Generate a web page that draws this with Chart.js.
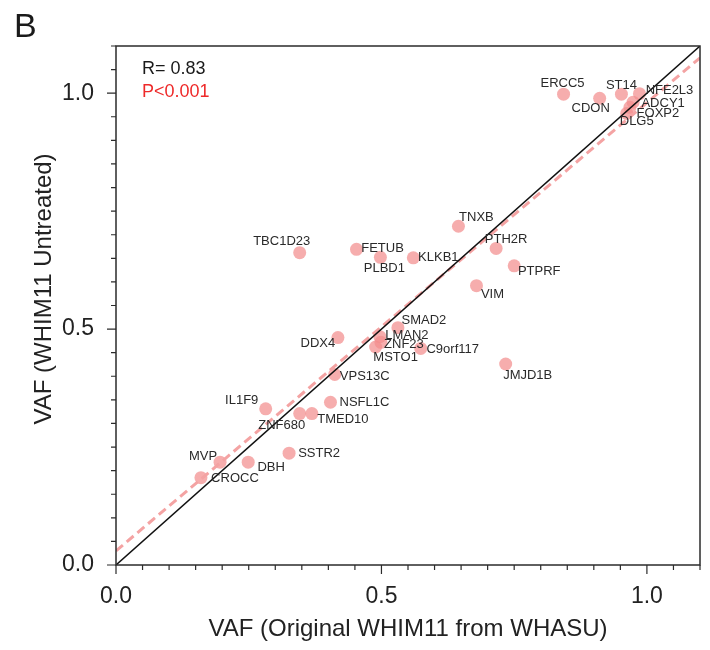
<!DOCTYPE html>
<html>
<head>
<meta charset="utf-8">
<script src="https://cdn.jsdelivr.net/npm/chart.js@4.4.1/dist/chart.umd.min.js"></script>
<style>
  html, body { margin: 0; padding: 0; background: #ffffff; }
  #wrap { width: 710px; height: 650px; }
</style>
</head>
<body>
<div id="wrap"><canvas id="c" width="710" height="650"></canvas></div>
<script>
// ---- data ----
const genes = ['ERCC5','CDON','ST14','NFE2L3','ADCY1','FOXP2','DLG5','TNXB','PTH2R','PTPRF','VIM','TBC1D23','FETUB','PLBD1','KLKB1','SMAD2','DDX4','LMAN2','ZNF23','MSTO1','C9orf117','JMJD1B','VPS13C','IL1F9','NSFL1C','ZNF680','TMED10','SSTR2','DBH','MVP','CROCC'];
const vafOriginal = [0.843,0.911,0.952,0.986,0.974,0.968,0.962,0.645,0.716,0.750,0.679,0.346,0.453,0.498,0.560,0.531,0.418,0.497,0.499,0.489,0.574,0.734,0.412,0.282,0.404,0.346,0.369,0.326,0.249,0.196,0.160];
const vafUntreated = [0.998,0.989,0.998,0.999,0.981,0.970,0.957,0.718,0.671,0.634,0.592,0.662,0.669,0.652,0.651,0.503,0.482,0.484,0.472,0.462,0.459,0.426,0.404,0.331,0.345,0.321,0.321,0.237,0.218,0.218,0.185];
const identityLine = {x: [0, 1.1], y: [0, 1.1]};
const fitLine = {x: [0, 1.1], y: [0.03, 1.075]};
const majorTickValues = [0, 0.5, 1.0];
const statR = 'R= 0.83';
const statP = 'P<0.001';
const panelLetter = 'B';
const xTitle = 'VAF (Original WHIM11 from WHASU)';
const yTitle = 'VAF (WHIM11 Untreated)';

// label placement offsets (pixels, label centre relative to dot)
const labelDx = [-1,-9,0,30,30,28,10,18,10,25,16,-18,26,4,25,26,-20,27,23,20,32,22,30,-24,34,-18,31,30,23,-17,34];
const labelDy = [-11,10,-9,-3,1,6,8,-9,-9,6,9,-11,-1,11,0,-7,6,-1,2,10,1,11,2,-8,0,12,6,0,5,-6,1];

const FONT = "'Liberation Sans', Arial, Helvetica, sans-serif";
const AXIS = '#2b2b2b';

const points = genes.map((g, i) => ({x: vafOriginal[i], y: vafUntreated[i]}));
const toXY = (o) => o.x.map((v, i) => ({x: v, y: o.y[i]}));

const isMajor = (v) => majorTickValues.some(m => Math.abs(m - v) < 1e-6);

const decor = {
  id: 'decor',
  afterDatasetsDraw(chart) {
    const ctx = chart.ctx;
    const meta = chart.getDatasetMeta(0);
    ctx.save();
    ctx.font = '13px ' + FONT;
    ctx.fillStyle = '#2a2a2a';
    ctx.textAlign = 'center';
    ctx.textBaseline = 'middle';
    meta.data.forEach((el, i) => {
      ctx.fillText(genes[i], el.x + labelDx[i], el.y + labelDy[i]);
    });
    ctx.restore();
  },
  afterDraw(chart) {
    const ctx = chart.ctx;
    const a = chart.chartArea;
    const xs = chart.scales.x, ys = chart.scales.y;
    ctx.save();
    // frame
    ctx.strokeStyle = AXIS;
    ctx.lineWidth = 1.5;
    ctx.strokeRect(a.left, a.top, a.right - a.left, a.bottom - a.top);
    // ticks
    ctx.lineWidth = 1.2;
    ctx.beginPath();
    xs.ticks.forEach(t => {
      const px = xs.getPixelForValue(t.value);
      const len = isMajor(t.value) ? 9 : 5;
      ctx.moveTo(px, a.bottom);
      ctx.lineTo(px, a.bottom + len);
    });
    ys.ticks.forEach(t => {
      const py = ys.getPixelForValue(t.value);
      const len = isMajor(t.value) ? 9 : 5;
      ctx.moveTo(a.left, py);
      ctx.lineTo(a.left - len, py);
    });
    ctx.stroke();
    // y axis title (placed slightly above the axis centre, as in the reference)
    ctx.save();
    ctx.translate(44, ys.getPixelForValue(0.585));
    ctx.rotate(-Math.PI / 2);
    ctx.font = '24px ' + FONT;
    ctx.fillStyle = '#222';
    ctx.textAlign = 'center';
    ctx.textBaseline = 'middle';
    ctx.fillText(yTitle, 0, 0);
    ctx.restore();
    // stats text
    ctx.font = '18px ' + FONT;
    ctx.textAlign = 'left';
    ctx.textBaseline = 'middle';
    ctx.fillStyle = '#1a1a1a';
    ctx.fillText(statR, a.left + 26, a.top + 23);
    ctx.fillStyle = '#ee2a2a';
    ctx.fillText(statP, a.left + 26, a.top + 46);
    // panel letter
    ctx.font = '34px ' + FONT;
    ctx.fillStyle = '#1a1a1a';
    ctx.textBaseline = 'alphabetic';
    ctx.fillText(panelLetter, 14, 37);
    ctx.restore();
  }
};

new Chart(document.getElementById('c'), {
  type: 'scatter',
  data: {
    datasets: [
      {
        label: 'genes',
        data: points,
        backgroundColor: 'rgba(242,142,141,0.72)',
        borderWidth: 0,
        pointRadius: 6.5,
        pointHoverRadius: 6.5,
        order: 3
      },
      {
        type: 'line',
        label: 'fit',
        data: toXY(fitLine),
        borderColor: '#f4a3a3',
        borderWidth: 3,
        borderDash: [9, 5],
        pointRadius: 0,
        fill: false,
        order: 2
      },
      {
        type: 'line',
        label: 'identity',
        data: toXY(identityLine),
        borderColor: '#111111',
        borderWidth: 1.5,
        pointRadius: 0,
        fill: false,
        order: 1
      }
    ]
  },
  options: {
    responsive: false,
    animation: false,
    devicePixelRatio: 1,
    layout: { padding: { top: 46, right: 10, left: 0, bottom: 0 } },
    plugins: { legend: { display: false }, tooltip: { enabled: false } },
    scales: {
      x: {
        type: 'linear', position: 'bottom', min: 0, max: 1.1,
        grid: { display: false },
        border: { display: false },
        ticks: {
          stepSize: 0.05, autoSkip: false, maxRotation: 0, padding: 10,
          color: '#222', font: { family: FONT, size: 23 },
          callback: (v) => isMajor(v) ? v.toFixed(1) : ''
        },
        title: {
          display: true, text: xTitle, color: '#222',
          font: { family: FONT, size: 24 }, padding: { top: 0, bottom: 6 }
        },
        afterFit: (s) => { s.height = 85; }
      },
      y: {
        type: 'linear', position: 'left', min: 0, max: 1.1,
        grid: { display: false },
        border: { display: false },
        ticks: {
          stepSize: 0.05, autoSkip: false, padding: 14,
          color: '#222', font: { family: FONT, size: 23 },
          callback: (v) => isMajor(v) ? v.toFixed(1) : ''
        },
        title: { display: false },
        afterFit: (s) => { s.width = 116; }
      }
    }
  },
  plugins: [decor]
});
</script>
</body>
</html>
